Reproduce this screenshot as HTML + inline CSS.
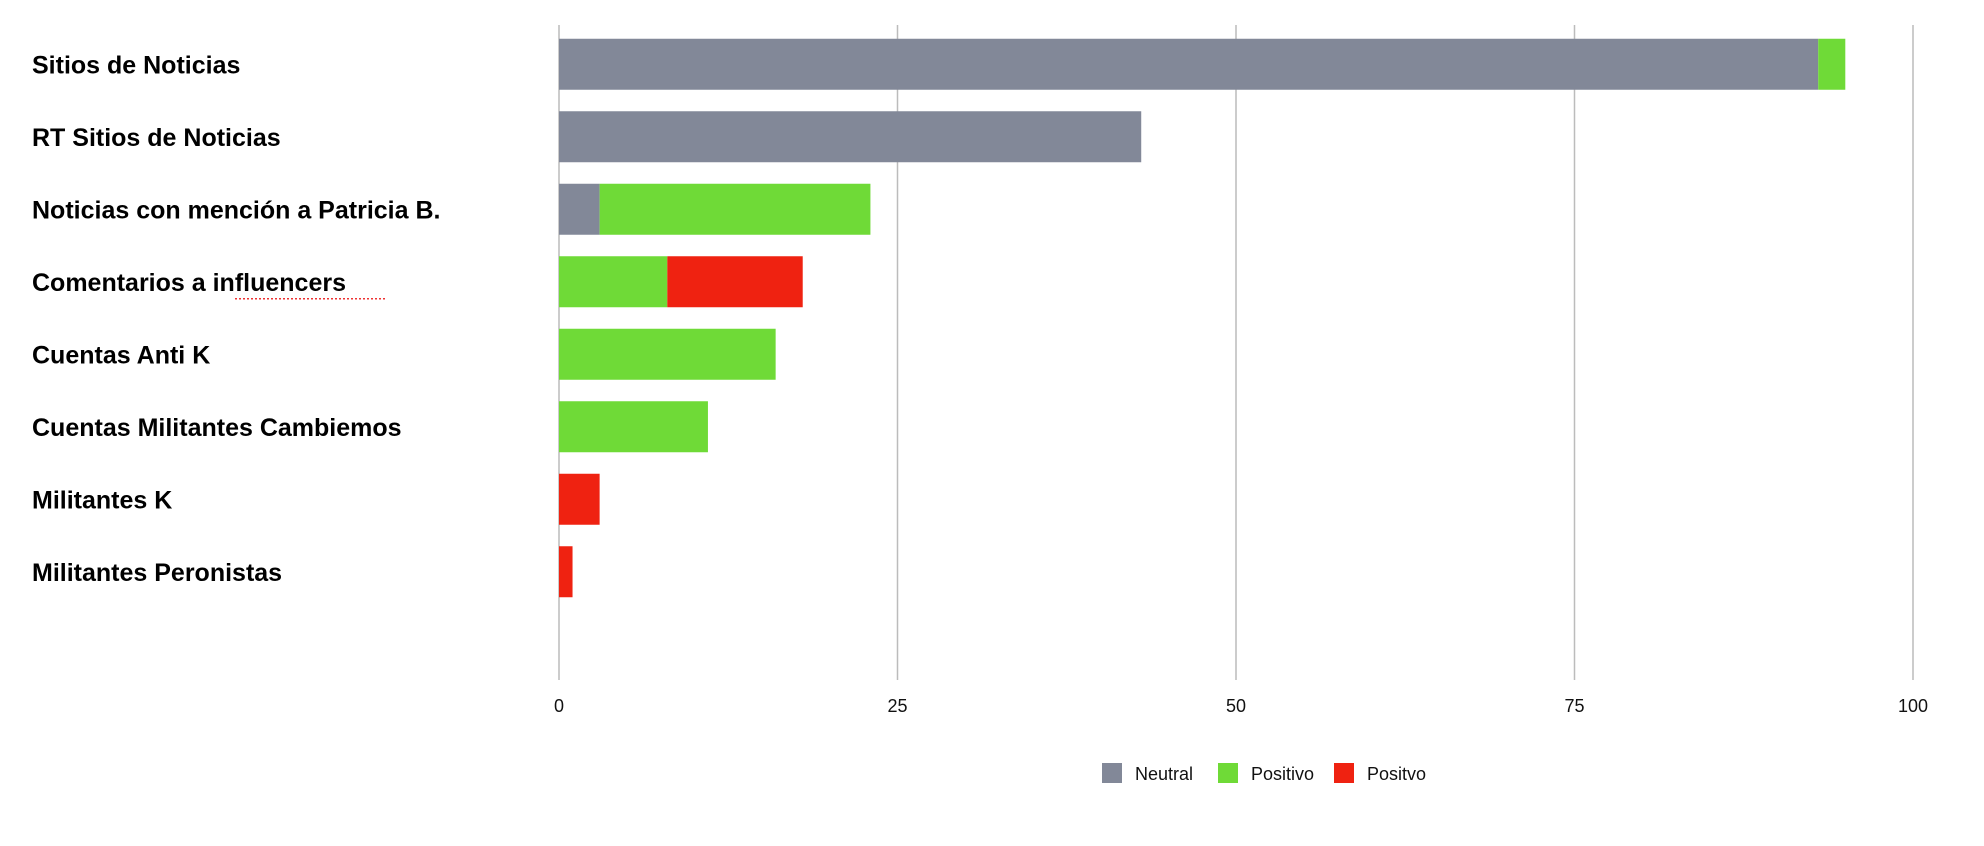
<!DOCTYPE html>
<html><head><meta charset="utf-8">
<style>
html,body{margin:0;padding:0;background:#fff;}
svg{display:block;font-family:"Liberation Sans",sans-serif;}
</style></head>
<body>
<svg id="chart" width="1984" height="846" viewBox="0 0 1984 846" xmlns="http://www.w3.org/2000/svg">
<g id="grid"></g>
<g id="bars"></g>
<g id="labels"></g>
<g id="ticks"></g>
<g id="legend"></g>
</svg>
<script>
const categories = ["Sitios de Noticias","RT Sitios de Noticias","Noticias con mención a Patricia B.","Comentarios a influencers","Cuentas Anti K","Cuentas Militantes Cambiemos","Militantes K","Militantes Peronistas"];
const neutral = [93,43,3,0,0,0,0,0];
const positivo = [2,0,20,8,16,11,0,0];
const positvo = [0,0,0,10,0,0,3,1];
const tickValues = [0,25,50,75,100];
const seriesNames = ["Neutral","Positivo","Positvo"];
const colors = ["#828898","#6fda37","#ef2211"];

const NS="http://www.w3.org/2000/svg";
const x0=559, x1=1913, yTop=25, yBot=680, bandStart=28, step=72.5, barH=51;
const xs = v => x0 + (x1-x0)*v/100;
const yc = i => bandStart + step*(i+0.5);
function mk(tag, attrs, parent){const e=document.createElementNS(NS,tag);for(const k in attrs)e.setAttribute(k,attrs[k]);parent.appendChild(e);return e;}
const grid=document.getElementById('grid'), bars=document.getElementById('bars'), labels=document.getElementById('labels'), ticks=document.getElementById('ticks'), legend=document.getElementById('legend');

tickValues.forEach(t=>{
  const l=mk('line',{x1:xs(t),x2:xs(t),y1:yTop,y2:yBot,stroke:'#bcbcbc','stroke-width':1.5},grid);
  
  
  const tx=mk('text',{x:xs(t),y:712,'text-anchor':'middle','font-size':18,fill:'#111'},ticks);
  
  
  tx.textContent=t;
});

const series=[neutral,positivo,positvo];
categories.forEach((c,i)=>{
  let acc=0;
  series.forEach((s,k)=>{
    const v=s[i];
    if(v>0){
      const r=mk('rect',{x:xs(acc),y:yc(i)-barH/2,width:xs(acc+v)-xs(acc),height:barH,fill:colors[k]},bars);
      
      
    }
    acc+=v;
  });
  const t=mk('text',{x:32,y:yc(i)+9,'font-size':25,'font-weight':'bold',fill:'#000'},labels);
  
  
  t.textContent=c;
});
// spellcheck squiggle under "influencers"
const sq=mk('path',{d:'',stroke:'#e33','stroke-width':1.5,fill:'none','stroke-dasharray':'2 2'},labels);


sq.setAttribute('d','M235 '+(yc(3)+17)+' L385 '+(yc(3)+17));

const lx=[1102,1218,1334];
seriesNames.forEach((n,k)=>{
  const r=mk('rect',{x:lx[k],y:763,width:20,height:20,fill:colors[k]},legend);
  
  
  const t=mk('text',{x:lx[k]+33,y:780,'font-size':18,fill:'#111'},legend);
  
  
  t.textContent=n;
});
</script>
</body></html>
